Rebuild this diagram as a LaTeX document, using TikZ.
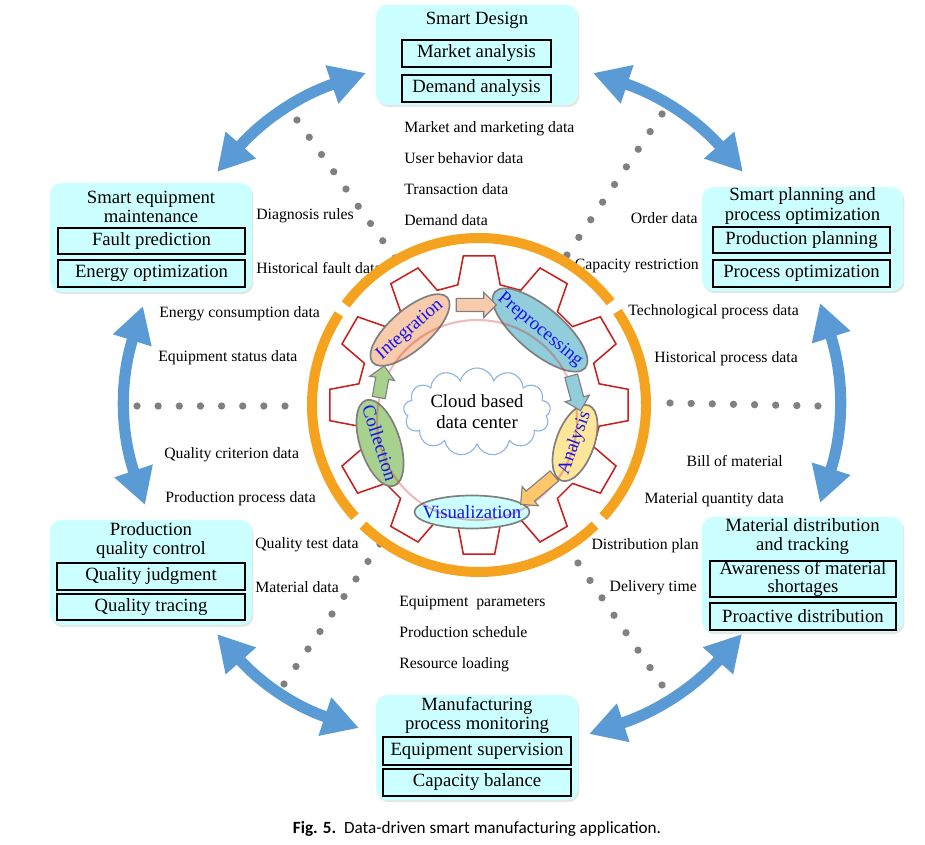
\documentclass[tikz,border=0pt]{standalone}
\usepackage{fontspec}
\setmainfont{Liberation Serif}
\newfontfamily\capfont{Carlito}
\usetikzlibrary{arrows.meta, positioning, shapes.geometric, shapes.symbols, shapes.arrows, shadows, calc}
\definecolor{modcol}{HTML}{CCFFFF}
\definecolor{linkcol}{HTML}{5B9BD5}
\definecolor{dotcol}{HTML}{808080}
\definecolor{ringcol}{HTML}{F5A21E}
\definecolor{gearcol}{HTML}{C8201E}
\definecolor{integcol}{HTML}{F8CBAD}
\definecolor{prepcol}{HTML}{92CDDC}
\definecolor{anacol}{HTML}{FFE699}
\definecolor{collcol}{HTML}{A9D18E}
\definecolor{viscol}{HTML}{CCFFFF}
\definecolor{cloudcol}{HTML}{8EB4E3}
\definecolor{stagecol}{HTML}{1414F0}
\definecolor{stageline}{HTML}{7F7F7F}
\tikzset{
  modbox/.style={rectangle, rounded corners=8pt, fill=modcol, inner sep=0pt,
    drop shadow={opacity=0.2, shadow xshift=1pt, shadow yshift=-1.5pt}},
  modtitle/.style={align=center, inner sep=0pt, font=\rmfamily\fontsize{13.3}{13.6}\selectfont},
  funcbox/.style={rectangle, draw, line width=0.9pt, fill=modcol, inner sep=0pt, align=center, font=\rmfamily\fontsize{13.3}{12.8}\selectfont},
  datatxt/.style={inner sep=0pt, text height=0.7em, text depth=0.2em, font=\rmfamily\fontsize{11.2}{12}\selectfont},
  link/.style={draw=linkcol, line width=0.28cm, {Triangle[length=0.9cm, width=0.95cm]}-{Triangle[length=0.9cm, width=0.95cm]}},
  stage/.style={ellipse, draw=stageline, line width=1.2pt, inner sep=0pt},
  stagetxt/.style={text=stagecol, font=\rmfamily\fontsize{13.3}{14}\selectfont, inner sep=0pt},
  flow/.style={single arrow, draw=stageline, line width=0.8pt, inner xsep=0pt, inner ysep=0.15cm, single arrow head extend=0.15cm},
}
\begin{document}
\begin{tikzpicture}[x=0.025cm, y=-0.025cm, >=Stealth]
  \useasboundingbox (0,0) rectangle (925,845);

  % application modules
  \node[modbox, minimum width=5.05cm, minimum height=2.5cm] (design) at (477,55) {};
  \node[modtitle] (designT) at (477,20) {Smart Design};
  \node[funcbox, minimum width=3.725cm, minimum height=0.675cm] (designA) at (476.5,53.5) {Market analysis};
  \node[funcbox, minimum width=3.725cm, minimum height=0.675cm] (designB) at (476.5,88.5) {Demand analysis};

  \node[modbox, minimum width=5.05cm, minimum height=2.725cm] (maint) at (151,237.5) {};
  \node[modtitle] (maintT) at (151,207) {Smart equipment\\maintenance};
  \node[funcbox, minimum width=4.675cm, minimum height=0.65cm] (maintA) at (151.5,241) {Fault prediction};
  \node[funcbox, minimum width=4.675cm, minimum height=0.675cm] (maintB) at (151.5,273.5) {Energy optimization};

  \node[modbox, minimum width=5.025cm, minimum height=2.6cm] (plan) at (802.5,239) {};
  \node[modtitle] (planT) at (802.5,206) {Smart planning and\\process optimization};
  \node[funcbox, minimum width=4.425cm, minimum height=0.65cm] (planA) at (801.5,240) {Production planning};
  \node[funcbox, minimum width=4.425cm, minimum height=0.675cm] (planB) at (801.5,273.5) {Process optimization};

  \node[modbox, minimum width=5.05cm, minimum height=2.625cm] (quality) at (151,572.5) {};
  \node[modtitle] (qualityT) at (151,540.5) {Production\\quality control};
  \node[funcbox, minimum width=4.7cm, minimum height=0.675cm] (qualityA) at (151,576.5) {Quality judgment};
  \node[funcbox, minimum width=4.7cm, minimum height=0.65cm] (qualityB) at (151,607) {Quality tracing};

  \node[modbox, minimum width=5.025cm, minimum height=2.875cm] (mater) at (802.5,574.5) {};
  \node[modtitle] (materT) at (802.5,536.5) {Material distribution\\and tracking};
  \node[funcbox, minimum width=4.65cm, minimum height=0.9cm] (materA) at (803,579) {Awareness of material\\shortages};
  \node[funcbox, minimum width=4.65cm, minimum height=0.675cm] (materB) at (803,616.5) {Proactive distribution};

  \node[modbox, minimum width=5.05cm, minimum height=2.625cm] (monit) at (477,747.5) {};
  \node[modtitle] (monitT) at (477,715.5) {Manufacturing\\process monitoring};
  \node[funcbox, minimum width=4.7cm, minimum height=0.7cm] (monitA) at (477,751) {Equipment supervision};
  \node[funcbox, minimum width=4.7cm, minimum height=0.675cm] (monitB) at (477,782.5) {Capacity balance};

  % blue links between modules
  \coordinate (lkTLa) at (217,172);  \coordinate (lkTLb) at (366,73);
  \coordinate (lkTRa) at (593,73);   \coordinate (lkTRb) at (743,172);
  \coordinate (lkRa)  at (820,303);  \coordinate (lkRb)  at (820,503);
  \coordinate (lkBRa) at (742,634);  \coordinate (lkBRb) at (589,734);
  \coordinate (lkBLa) at (359,728);  \coordinate (lkBLb) at (217,634);
  \coordinate (lkLa)  at (145,505);  \coordinate (lkLb)  at (143,306);
  \draw[link] (lkTLa) to[bend left=15] (lkTLb);
  \draw[link] (lkTRa) to[bend left=15] (lkTRb);
  \draw[link] (lkRa)  to[bend left=18] (lkRb);
  \draw[link] (lkBRa) to[bend left=15] (lkBRb);
  \draw[link] (lkBLa) to[bend left=15] (lkBLb);
  \draw[link] (lkLa)  to[bend left=18] (lkLb);

  % dotted data paths
  \coordinate (dTLa) at (297,120); \coordinate (dTLb) at (395,258);
  \coordinate (dTRa) at (662,114); \coordinate (dTRb) at (567,255);
  \coordinate (dLa)  at (137,406); \coordinate (dLb)  at (285,406);
  \coordinate (dRa)  at (670,403); \coordinate (dRb)  at (818,406);
  \coordinate (dBLa) at (380,544); \coordinate (dBLb) at (284,684);
  \coordinate (dBRa) at (578,563); \coordinate (dBRb) at (662,685);
  \foreach \p/\q/\n in {dTLa/dTLb/8, dTRa/dTRb/8, dLa/dLb/7, dRa/dRb/7, dBLa/dBLb/8, dBRa/dBRb/7}
    \foreach \i in {0,...,\n}
      \fill[dotcol] ($(\p)!\i/\n!(\q)$) circle (2.6pt);

  % data labels
  \node[datatxt, anchor=west] (mkt)   at (404,129) {Market and marketing data};
  \node[datatxt, anchor=west] (user)  at (404,160) {User behavior data};
  \node[datatxt, anchor=west] (trans) at (404,191) {Transaction data};
  \node[datatxt, anchor=west] (dem)   at (404,222) {Demand data};
  \node[datatxt, anchor=west] (diag)  at (256,216) {Diagnosis rules};
  \node[datatxt, anchor=west] (hfault) at (256,270) {Historical fault data};
  \node[datatxt, anchor=east] (order) at (698,220) {Order data};
  \node[datatxt, anchor=east] (capr)  at (699,266) {Capacity restriction};
  \node[datatxt, anchor=west] (energy) at (159,314) {Energy consumption data};
  \node[datatxt, anchor=west] (estat) at (158,358) {Equipment status data};
  \node[datatxt, anchor=east] (tech)  at (799,312) {Technological process data};
  \node[datatxt, anchor=east] (hproc) at (798,359) {Historical process data};
  \node[datatxt, anchor=west] (qcrit) at (164,455) {Quality criterion data};
  \node[datatxt, anchor=west] (pproc) at (165,499) {Production process data};
  \node[datatxt, anchor=east] (bom)   at (783,463) {Bill of material};
  \node[datatxt, anchor=east] (mqty)  at (784,500) {Material quantity data};
  \node[datatxt, anchor=west] (qtest) at (255,545) {Quality test data};
  \node[datatxt, anchor=west] (mdata) at (255,589) {Material data};
  \node[datatxt, anchor=east] (dplan) at (699,546) {Distribution plan};
  \node[datatxt, anchor=east] (dtime) at (697,588) {Delivery time};
  \node[datatxt, anchor=west] (eparm) at (399,603) {Equipment\ \ parameters};
  \node[datatxt, anchor=west] (psch)  at (399,634) {Production schedule};
  \node[datatxt, anchor=west] (rload) at (399,665) {Resource loading};

  % gear and ring of the data center
  \begin{scope}[shift={(479,405)}, yscale=-1]
    \draw[ringcol, line width=0.25cm] (38:167)  arc[start angle=38,  end angle=143, radius=167];
    \draw[ringcol, line width=0.25cm] (147:167) arc[start angle=147, end angle=222, radius=167];
    \draw[ringcol, line width=0.25cm] (226:167) arc[start angle=226, end angle=314, radius=167];
    \draw[ringcol, line width=0.25cm] (318:167) arc[start angle=318, end angle=394, radius=167];
    \draw[gearcol, line width=1.1pt] (-10:122)
      \foreach \t in {0,30,...,330} { -- (\t-10:122) -- (\t-6:150) -- (\t+6:150) -- (\t+10:122) } -- cycle;
  \end{scope}

  % processing stages
  \node[stage, fill=integcol, minimum width=2.475cm, minimum height=1.0cm, rotate=41] (integ) at (410,330) {};
  \node[stage, fill=prepcol, minimum width=2.95cm, minimum height=1.125cm, rotate=-40] (prep) at (540,330) {};
  \node[stage, fill=anacol, minimum width=2.0cm, minimum height=0.95cm, rotate=70] (ana) at (575,443) {};
  \node[stage, fill=collcol, minimum width=2.25cm, minimum height=1.0cm, rotate=-72] (coll) at (380,443) {};
  \node[stage, fill=viscol, minimum width=2.875cm, minimum height=0.825cm] (vis) at (472,512) {};
  \draw[gearcol, opacity=0.3, line width=1.5pt] (477,420) circle (100);
  \node[stagetxt, rotate=41]  at (integ) {Integration};
  \node[stagetxt, rotate=-40] at (prep)  {Preprocessing};
  \node[stagetxt, rotate=70]  at (ana)   {Analysis};
  \node[stagetxt, rotate=-72] at (coll)  {Collection};
  \node[stagetxt]             at (vis)   {Visualization};

  \node[flow, fill=integcol, minimum height=1.0cm] (f1) at (473,305) {};
  \node[flow, fill=prepcol, minimum height=0.9cm, rotate=-75] (f2) at (575,390) {};
  \node[flow, fill=anacol!70!orange, minimum height=1.1cm, rotate=-140] (f3) at (540,488) {};
  \node[flow, fill=collcol, minimum height=0.8cm, rotate=80] (f4) at (381,385) {};

  \node[cloud, cloud puffs=13, aspect=2, draw=cloudcol, line width=0.8pt, fill=white, inner sep=0pt,
        minimum width=3.675cm, minimum height=1.925cm, align=center,
        font=\rmfamily\fontsize{13.3}{15}\selectfont] (cloud) at (477,412) {Cloud based\\data center};

  \node[font=\capfont\fontsize{12.2}{13}\selectfont] (caption) at (477,829)
    {\textbf{Fig. 5.}\ \ Data-driven smart manufacturing application.};
\end{tikzpicture}
\end{document}
